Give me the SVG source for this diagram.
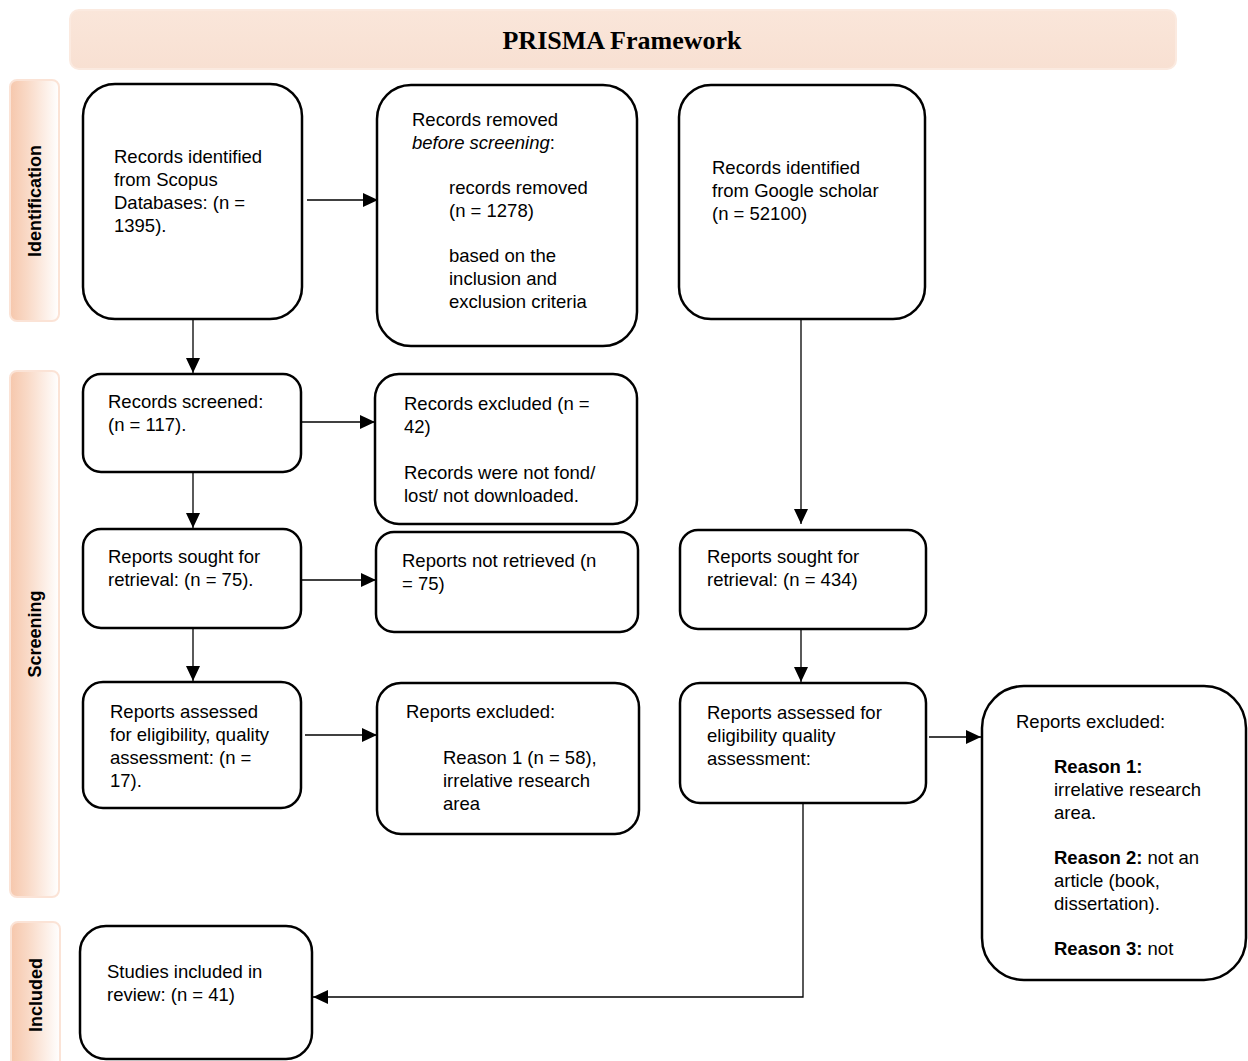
<svg xmlns="http://www.w3.org/2000/svg" width="1248" height="1061" viewBox="0 0 1248 1061">
<style>
.box{fill:#fff;stroke:#000;stroke-width:2.5}
.t{font-family:"Liberation Sans",Arial,sans-serif;font-size:18.5px;fill:#000}
.lbl{font-family:"Liberation Sans",Arial,sans-serif;font-size:18px;font-weight:bold;fill:#000}
.title{font-family:"Liberation Serif","Times New Roman",serif;font-size:26px;font-weight:bold;fill:#000}
.band{fill:url(#bandGrad);stroke:#FBE3D6;stroke-width:2}
.conn{fill:none;stroke:#000;stroke-width:1.3}
b{font-weight:bold}
</style>
<defs>
<linearGradient id="bandGrad" x1="0" y1="0" x2="1" y2="0">
<stop offset="0" stop-color="#F6C7AC"/>
<stop offset="0.35" stop-color="#F9D9C6"/>
<stop offset="1" stop-color="#FFFFFF"/>
</linearGradient>
<linearGradient id="titleGrad" x1="0" y1="0" x2="0" y2="1">
<stop offset="0" stop-color="#FAE6DA"/>
<stop offset="1" stop-color="#F8E0D2"/>
</linearGradient>
<marker id="arr" markerUnits="userSpaceOnUse" markerWidth="16" markerHeight="14" refX="15" refY="7" orient="auto">
<path d="M0,0 L15,7 L0,14 Z" fill="#000"/>
</marker>
</defs>

<g id="title-bar">
<rect x="70" y="10" width="1106" height="59" rx="9" fill="url(#titleGrad)" stroke="#FBEAE0" stroke-width="2"/>
<text class="title" x="622" y="49" text-anchor="middle">PRISMA Framework</text>
</g>

<g id="band-identification">
<rect class="band" x="10" y="80" width="49" height="241" rx="7"/>
<text class="lbl" transform="translate(41,201) rotate(-90)" text-anchor="middle">Identification</text>
</g>
<g id="band-screening">
<rect class="band" x="10" y="371" width="49" height="526" rx="7"/>
<text class="lbl" transform="translate(41,634) rotate(-90)" text-anchor="middle">Screening</text>
</g>
<g id="band-included">
<rect class="band" x="11" y="922" width="49" height="150" rx="7"/>
<text class="lbl" transform="translate(42,995) rotate(-90)" text-anchor="middle">Included</text>
</g>

<g id="connectors">
<path class="conn" d="M307,200 H378" marker-end="url(#arr)"/>
<path class="conn" d="M193,319 V373" marker-end="url(#arr)"/>
<path class="conn" d="M801,319 V524" marker-end="url(#arr)"/>
<path class="conn" d="M301,422 H375" marker-end="url(#arr)"/>
<path class="conn" d="M193,472 V528" marker-end="url(#arr)"/>
<path class="conn" d="M301,580 H376" marker-end="url(#arr)"/>
<path class="conn" d="M193,628 V681" marker-end="url(#arr)"/>
<path class="conn" d="M801,629 V682" marker-end="url(#arr)"/>
<path class="conn" d="M305,735 H377" marker-end="url(#arr)"/>
<path class="conn" d="M929,737 H981" marker-end="url(#arr)"/>
<path class="conn" d="M803,803 V997 H313" marker-end="url(#arr)"/>
</g>

<g id="scopus-records">
<rect class="box" x="83" y="84" width="219" height="235" rx="32"/>
<text class="t"><tspan x="114" y="163">Records identified</tspan><tspan x="114" y="186">from Scopus</tspan><tspan x="114" y="209">Databases: (n =</tspan><tspan x="114" y="232">1395).</tspan></text>
</g>

<g id="records-removed">
<rect class="box" x="377" y="85" width="260" height="261" rx="34"/>
<text class="t"><tspan x="412" y="126">Records removed</tspan><tspan x="412" y="149" font-style="italic">before screening</tspan><tspan>:</tspan><tspan x="449" y="194">records removed</tspan><tspan x="449" y="217">(n = 1278)</tspan><tspan x="449" y="262">based on the</tspan><tspan x="449" y="285">inclusion and</tspan><tspan x="449" y="308">exclusion criteria</tspan></text>
</g>

<g id="google-records">
<rect class="box" x="679" y="85" width="246" height="234" rx="32"/>
<text class="t"><tspan x="712" y="174">Records identified</tspan><tspan x="712" y="197">from Google scholar</tspan><tspan x="712" y="220">(n = 52100)</tspan></text>
</g>

<g id="records-screened">
<rect class="box" x="83" y="374" width="218" height="98" rx="18"/>
<text class="t"><tspan x="108" y="408">Records screened:</tspan><tspan x="108" y="431">(n = 117).</tspan></text>
</g>

<g id="records-excluded">
<rect class="box" x="375" y="374" width="262" height="150" rx="24"/>
<text class="t"><tspan x="404" y="410">Records excluded (n =</tspan><tspan x="404" y="433">42)</tspan><tspan x="404" y="479">Records were not fond/</tspan><tspan x="404" y="502">lost/ not downloaded.</tspan></text>
</g>

<g id="reports-sought-scopus">
<rect class="box" x="83" y="529" width="218" height="99" rx="18"/>
<text class="t"><tspan x="108" y="563">Reports sought for</tspan><tspan x="108" y="586">retrieval: (n = 75).</tspan></text>
</g>

<g id="reports-not-retrieved">
<rect class="box" x="376" y="532" width="262" height="100" rx="18"/>
<text class="t"><tspan x="402" y="567">Reports not retrieved (n</tspan><tspan x="402" y="590">= 75)</tspan></text>
</g>

<g id="reports-sought-google">
<rect class="box" x="680" y="530" width="246" height="99" rx="18"/>
<text class="t"><tspan x="707" y="563">Reports sought for</tspan><tspan x="707" y="586">retrieval: (n = 434)</tspan></text>
</g>

<g id="reports-assessed-scopus">
<rect class="box" x="83" y="682" width="218" height="126" rx="20"/>
<text class="t"><tspan x="110" y="718">Reports assessed</tspan><tspan x="110" y="741">for eligibility, quality</tspan><tspan x="110" y="764">assessment: (n =</tspan><tspan x="110" y="787">17).</tspan></text>
</g>

<g id="reports-excluded-scopus">
<rect class="box" x="377" y="683" width="262" height="151" rx="24"/>
<text class="t"><tspan x="406" y="718">Reports excluded:</tspan><tspan x="443" y="764">Reason 1 (n = 58),</tspan><tspan x="443" y="787">irrelative research</tspan><tspan x="443" y="810">area</tspan></text>
</g>

<g id="reports-assessed-google">
<rect class="box" x="680" y="683" width="246" height="120" rx="20"/>
<text class="t"><tspan x="707" y="719">Reports assessed for</tspan><tspan x="707" y="742">eligibility quality</tspan><tspan x="707" y="765">assessment:</tspan></text>
</g>

<g id="reports-excluded-google">
<rect class="box" x="982" y="686" width="264" height="294" rx="42"/>
<text class="t"><tspan x="1016" y="728">Reports excluded:</tspan><tspan x="1054" y="773" font-weight="bold">Reason 1:</tspan><tspan x="1054" y="796">irrelative research</tspan><tspan x="1054" y="819">area.</tspan><tspan x="1054" y="864" font-weight="bold">Reason 2:</tspan><tspan> not an</tspan><tspan x="1054" y="887">article (book,</tspan><tspan x="1054" y="910">dissertation).</tspan><tspan x="1054" y="955" font-weight="bold">Reason 3:</tspan><tspan> not</tspan></text>
</g>

<g id="studies-included">
<rect class="box" x="80" y="926" width="232" height="133" rx="26"/>
<text class="t"><tspan x="107" y="978">Studies included in</tspan><tspan x="107" y="1001">review: (n = 41)</tspan></text>
</g>
</svg>
